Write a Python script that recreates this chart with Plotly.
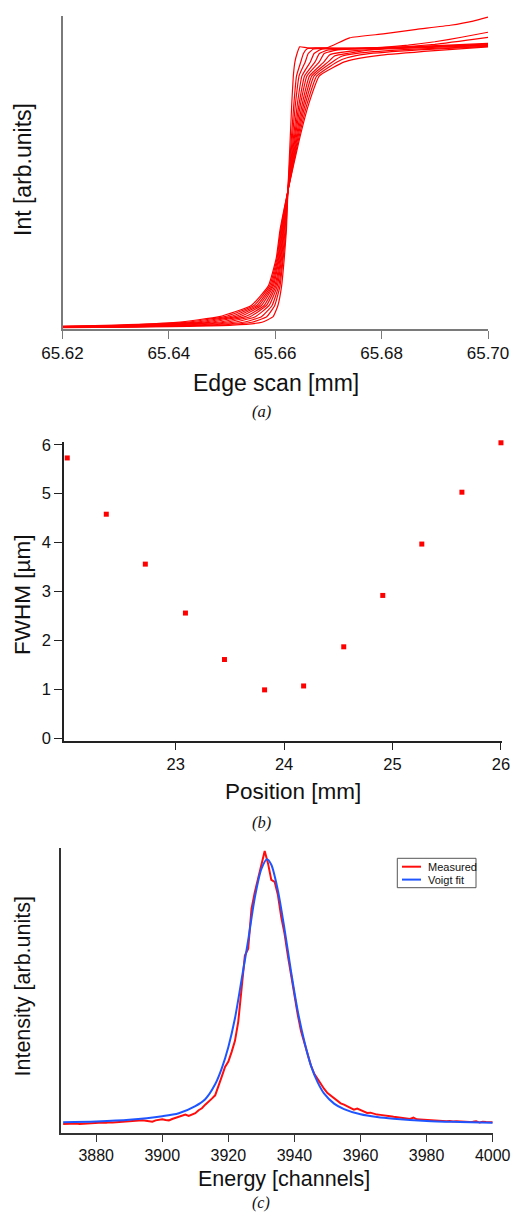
import plotly.graph_objects as go

W, H = 512, 1214

# ---------------- Panel (a): knife-edge scans ----------------
EDGE_X = [
    [65.620, 65.626, 65.6520, 65.6575, 65.6596, 65.6605, 65.6612, 65.6617, 65.6621, 65.6624, 65.6628, 65.6631, 65.6634, 65.6637, 65.6641, 65.6646, 65.6660, 65.6750, 65.6850, 65.7000],
    [65.620, 65.626, 65.6494, 65.6556, 65.6584, 65.6599, 65.6609, 65.6615, 65.6620, 65.6624, 65.6630, 65.6635, 65.6640, 65.6648, 65.6653, 65.6660, 65.6675, 65.6750, 65.6850, 65.7000],
    [65.620, 65.626, 65.6472, 65.6540, 65.6574, 65.6594, 65.66065, 65.66137, 65.66184, 65.66242, 65.66317, 65.6638, 65.66448, 65.66564, 65.6662, 65.6672, 65.6697, 65.6740, 65.6803, 65.6866, 65.6929, 65.6972, 65.7000],
    [65.620, 65.626, 65.64474, 65.65222, 65.65627, 65.65885, 65.66038, 65.6612, 65.6617, 65.66243, 65.66336, 65.66416, 65.66502, 65.6666, 65.6673, 65.6685, 65.6710, 65.6800, 65.6900, 65.7000],
    [65.620, 65.626, 65.64254, 65.65062, 65.65526, 65.65835, 65.66013, 65.66106, 65.66158, 65.66244, 65.66353, 65.66448, 65.66551, 65.66748, 65.6683, 65.6700, 65.6750, 65.6850, 65.7000],
    [65.620, 65.626, 65.64056, 65.64918, 65.65435, 65.6579, 65.6599, 65.66092, 65.66148, 65.66245, 65.66368, 65.66476, 65.66595, 65.66828, 65.6692, 65.6715, 65.6750, 65.6800, 65.6850, 65.6900, 65.6950, 65.7000],
    [65.620, 65.626, 65.63836, 65.64758, 65.65334, 65.6574, 65.65965, 65.66077, 65.66136, 65.66246, 65.66385, 65.66508, 65.66644, 65.66916, 65.6702, 65.6750, 65.6850, 65.7000],
    [65.620, 65.626, 65.63638, 65.64614, 65.65243, 65.65695, 65.65943, 65.66064, 65.66125, 65.66247, 65.66401, 65.66537, 65.66688, 65.66995, 65.6712, 65.6750, 65.6800, 65.6900, 65.7000],
    [65.620, 65.626, 65.6344, 65.6447, 65.65152, 65.6565, 65.6592, 65.6605, 65.66114, 65.66248, 65.66416, 65.66566, 65.66732, 65.67074, 65.6725, 65.6760, 65.6850, 65.7000],
    [65.620, 65.626, 65.6322, 65.6431, 65.65051, 65.6560, 65.65895, 65.66035, 65.66102, 65.66249, 65.66433, 65.66598, 65.66781, 65.67162, 65.6735, 65.6770, 65.6870, 65.7000],
    [65.620, 65.626, 65.6300, 65.6415, 65.6495, 65.6555, 65.6587, 65.6602, 65.6609, 65.6625, 65.6645, 65.6663, 65.6683, 65.6730, 65.6750, 65.6800, 65.6900, 65.7000],
]
EDGE_Y = [
    [0.001, 0.0015, 0.01, 0.02, 0.04, 0.08, 0.15, 0.25, 0.35, 0.5, 0.67, 0.8, 0.9, 0.95, 0.98, 1.004, 1.0, 0.998, 1.003, 1.012],
    [0.0015, 0.002, 0.01, 0.02, 0.04, 0.08, 0.15, 0.25, 0.35, 0.5, 0.67, 0.8, 0.9, 0.95, 0.98, 0.997, 1.0, 0.999, 1.004, 1.016],
    [0.002, 0.0025, 0.01, 0.02, 0.04, 0.08, 0.15, 0.25, 0.35, 0.5, 0.67, 0.8, 0.9, 0.95, 0.98, 0.996, 1.0, 1.036, 1.05, 1.066, 1.081, 1.096, 1.11],
    [0.0025, 0.003, 0.01, 0.02, 0.04, 0.08, 0.15, 0.25, 0.35, 0.5, 0.67, 0.8, 0.9, 0.95, 0.98, 0.994, 0.998, 1.0, 1.005, 1.01],
    [0.003, 0.0035, 0.01, 0.02, 0.04, 0.08, 0.15, 0.25, 0.35, 0.5, 0.67, 0.8, 0.9, 0.95, 0.98, 0.993, 0.997, 1.001, 1.014],
    [0.003, 0.004, 0.01, 0.02, 0.04, 0.08, 0.15, 0.25, 0.35, 0.5, 0.67, 0.8, 0.9, 0.95, 0.98, 0.992, 0.996, 1.002, 1.01, 1.022, 1.038, 1.056],
    [0.0035, 0.0045, 0.01, 0.02, 0.04, 0.08, 0.15, 0.25, 0.35, 0.5, 0.67, 0.8, 0.9, 0.95, 0.975, 0.99, 0.999, 1.008],
    [0.004, 0.005, 0.01, 0.02, 0.04, 0.08, 0.15, 0.25, 0.35, 0.5, 0.67, 0.8, 0.9, 0.95, 0.972, 0.985, 0.997, 1.013, 1.038],
    [0.0045, 0.0055, 0.01, 0.02, 0.04, 0.08, 0.15, 0.25, 0.35, 0.5, 0.67, 0.8, 0.9, 0.95, 0.97, 0.982, 0.995, 1.006],
    [0.005, 0.007, 0.01, 0.02, 0.04, 0.08, 0.15, 0.25, 0.35, 0.5, 0.67, 0.8, 0.9, 0.95, 0.965, 0.978, 0.993, 1.005],
    [0.006, 0.008, 0.01, 0.02, 0.04, 0.08, 0.15, 0.25, 0.35, 0.5, 0.67, 0.8, 0.9, 0.95, 0.96, 0.974, 0.99, 1.004],
]
EDGE_TICKS = [65.62, 65.64, 65.66, 65.68, 65.70]
EDGE_TICK_TEXT = ["65.62", "65.64", "65.66", "65.68", "65.70"]

# ---------------- Panel (b): FWHM vs position ----------------
POSITION_MM = [22.00, 22.36, 22.72, 23.09, 23.45, 23.82, 24.18, 24.55, 24.91, 25.27, 25.64, 26.00]
FWHM_UM = [5.73, 4.58, 3.56, 2.56, 1.61, 0.99, 1.07, 1.87, 2.92, 3.97, 5.03, 6.04]
POSITION_TICKS = [23, 24, 25, 26]
FWHM_TICKS = [0, 1, 2, 3, 4, 5, 6]

# ---------------- Panel (c): measured spectrum and Voigt fit ----------------
MEAS_CHANNEL = list(range(3870, 4001))
MEAS_INT = [
    0.008, 0.009, 0.008, 0.009, 0.010, 0.008, 0.009, 0.010, 0.011, 0.011,
    0.012, 0.012, 0.013, 0.012, 0.014, 0.013, 0.014, 0.015, 0.016, 0.017,
    0.018, 0.019, 0.020, 0.019, 0.021, 0.020, 0.018, 0.016, 0.021, 0.024,
    0.025, 0.022, 0.021, 0.026, 0.030, 0.033, 0.036, 0.042, 0.037, 0.043,
    0.047, 0.058, 0.065, 0.078, 0.088, 0.100, 0.112, 0.150, 0.180, 0.215,
    0.235, 0.270, 0.310, 0.380, 0.500, 0.620, 0.645, 0.790, 0.850, 0.900,
    0.950, 1.000, 0.955, 0.895, 0.888, 0.840, 0.760, 0.700, 0.620, 0.545,
    0.470, 0.405, 0.345, 0.300, 0.255, 0.220, 0.190, 0.170, 0.150, 0.135,
    0.120, 0.110, 0.100, 0.092, 0.083, 0.078, 0.072, 0.066, 0.060, 0.064,
    0.058, 0.052, 0.048, 0.049, 0.045, 0.042, 0.041, 0.040, 0.037, 0.036,
    0.034, 0.032, 0.030, 0.029, 0.027, 0.026, 0.031, 0.025, 0.024, 0.023,
    0.022, 0.022, 0.021, 0.020, 0.020, 0.019, 0.018, 0.019, 0.017, 0.018,
    0.017, 0.016, 0.016, 0.015, 0.016, 0.018, 0.013, 0.016, 0.015, 0.014,
    0.014,
]
FIT_CHANNEL = [3870, 3880, 3890, 3900, 3905, 3910, 3913, 3916, 3918, 3920, 3922, 3924, 3926, 3928, 3930,
               3931.7, 3933, 3935, 3937, 3939, 3941, 3943, 3945, 3947, 3949, 3952, 3955, 3960, 3965, 3970,
               3980, 3990, 4000]
FIT_INT = [0.014, 0.017, 0.023, 0.036, 0.047, 0.073, 0.098, 0.152, 0.21, 0.288, 0.392, 0.532, 0.676, 0.83, 0.935,
           0.970, 0.95, 0.856, 0.716, 0.56, 0.418, 0.308, 0.22, 0.16, 0.118, 0.082, 0.062, 0.043, 0.033, 0.027,
           0.019, 0.015, 0.012]
ENERGY_TICKS = [3880, 3900, 3920, 3940, 3960, 3980, 4000]
LEGEND_NAMES = ["Measured", "Voigt fit"]

SANS = "Liberation Sans, Arial, Helvetica, sans-serif"
SERIF = "Liberation Serif, Times New Roman, serif"
RED = "#ff0d0d"
BLUE = "#1f55ff"


def px_x(p):
    return p / W


def px_y(p):
    return 1 - p / H


fig = go.Figure()

for xs, ys in zip(EDGE_X, EDGE_Y):
    fig.add_trace(go.Scatter(x=xs, y=ys, mode="lines", xaxis="x", yaxis="y",
                             line=dict(color="#ff0000", width=1.2, shape="spline", smoothing=0.4),
                             showlegend=False, hoverinfo="skip"))

fig.add_trace(go.Scatter(x=POSITION_MM, y=FWHM_UM, mode="markers", xaxis="x2", yaxis="y2",
                         marker=dict(symbol="square", size=5, color="#ff0000"),
                         cliponaxis=False, showlegend=False))

fig.add_trace(go.Scatter(x=MEAS_CHANNEL, y=MEAS_INT, mode="lines", xaxis="x3", yaxis="y3",
                         name=LEGEND_NAMES[0], line=dict(color=RED, width=2), showlegend=False))
fig.add_trace(go.Scatter(x=FIT_CHANNEL, y=FIT_INT, mode="lines", xaxis="x3", yaxis="y3",
                         name=LEGEND_NAMES[1], line=dict(color=BLUE, width=2, shape="spline", smoothing=0.8),
                         showlegend=False))

axis_common = dict(showgrid=False, zeroline=False, showline=True, mirror=False, automargin=False)

fig.update_layout(
    width=W, height=H,
    margin=dict(l=0, r=0, t=0, b=0, autoexpand=False),
    paper_bgcolor="white", plot_bgcolor="rgba(0,0,0,0)",
    font=dict(family=SANS, color="#111111"),
    showlegend=False,
    xaxis=dict(axis_common, domain=[px_x(62.5), px_x(488)], range=[65.62, 65.70], anchor="y",
               tickvals=EDGE_TICKS, ticktext=EDGE_TICK_TEXT, ticks="outside", ticklen=8, tickwidth=1.2,
               tickcolor="#7a7a7a", linecolor="#7a7a7a", linewidth=1.5, tickfont=dict(size=17)),
    yaxis=dict(axis_common, domain=[px_y(329), px_y(16)], range=[-0.004, 1.114], anchor="x",
               showticklabels=False, ticks="", linecolor="#7a7a7a", linewidth=1.5),
    xaxis2=dict(axis_common, domain=[px_x(64), px_x(501.5)], range=[21.97, 26.005], anchor="y2",
                tickvals=POSITION_TICKS, ticks="outside", ticklen=7, tickwidth=1.2,
                tickcolor="#222222", linecolor="#222222", linewidth=1.5, tickfont=dict(size=16.5)),
    yaxis2=dict(axis_common, domain=[px_y(741), px_y(441.8)], range=[-0.055, 6.06], anchor="x2",
                tickvals=FWHM_TICKS, ticks="outside", ticklen=8, tickwidth=1.2,
                tickcolor="#222222", linecolor="#222222", linewidth=1.5, tickfont=dict(size=16.5)),
    xaxis3=dict(axis_common, domain=[px_x(60.5), px_x(492.7)], range=[3869.2, 4000], anchor="y3",
                tickvals=ENERGY_TICKS, ticks="outside", ticklen=7, tickwidth=1.2,
                tickcolor="#333333", linecolor="#333333", linewidth=1.5, tickfont=dict(size=16)),
    yaxis3=dict(axis_common, domain=[px_y(1133.3), px_y(847.7)], range=[-0.026, 1.012], anchor="x3",
                showticklabels=False, ticks="", linecolor="#333333", linewidth=1.5),
)

annotations = [
    dict(text="Edge scan [mm]", x=px_x(276), y=px_y(383), font=dict(size=23)),
    dict(text="Int [arb.units]", x=px_x(23), y=px_y(170), textangle=-90, font=dict(size=23)),
    dict(text="<i>(a)</i>", x=px_x(261), y=px_y(411), font=dict(size=16.5, family=SERIF)),
    dict(text="Position [mm]", x=px_x(293), y=px_y(792), font=dict(size=22.5)),
    dict(text="FWHM [µm]", x=px_x(23), y=px_y(595), textangle=-90, font=dict(size=22.5)),
    dict(text="<i>(b)</i>", x=px_x(261), y=px_y(822), font=dict(size=16.5, family=SERIF)),
    dict(text="Energy [channels]", x=px_x(284), y=px_y(1179), font=dict(size=21.5)),
    dict(text="Intensity [arb.units]", x=px_x(22.5), y=px_y(987), textangle=-90, font=dict(size=21.5)),
    dict(text="<i>(c)</i>", x=px_x(261), y=px_y(1202.5), font=dict(size=16, family=SERIF)),
]
for a in annotations:
    a.update(xanchor="center", yanchor="middle")
# legend of panel (c)
annotations.append(dict(text=LEGEND_NAMES[0], x=px_x(425.5), y=px_y(866.7), xanchor="left", yanchor="middle",
                        font=dict(size=11)))
annotations.append(dict(text=LEGEND_NAMES[1], x=px_x(425.5), y=px_y(879.6), xanchor="left", yanchor="middle",
                        font=dict(size=11)))
for a in annotations:
    a.update(xref="paper", yref="paper", showarrow=False)
    a["font"].setdefault("family", SANS)
    a["font"].setdefault("color", "#111111")

shapes = [
    dict(type="rect", x0=px_x(397.3), x1=px_x(476), y0=px_y(887.7), y1=px_y(858.3),
         line=dict(color="#555555", width=1), fillcolor="white", layer="above"),
    dict(type="line", x0=px_x(402), x1=px_x(421), y0=px_y(866.7), y1=px_y(866.7),
         line=dict(color=RED, width=2)),
    dict(type="line", x0=px_x(402), x1=px_x(421), y0=px_y(879.6), y1=px_y(879.6),
         line=dict(color=BLUE, width=2)),
]
for s in shapes:
    s.update(xref="paper", yref="paper")

fig.update_layout(annotations=annotations, shapes=shapes)

fig.write_html("out.html")
